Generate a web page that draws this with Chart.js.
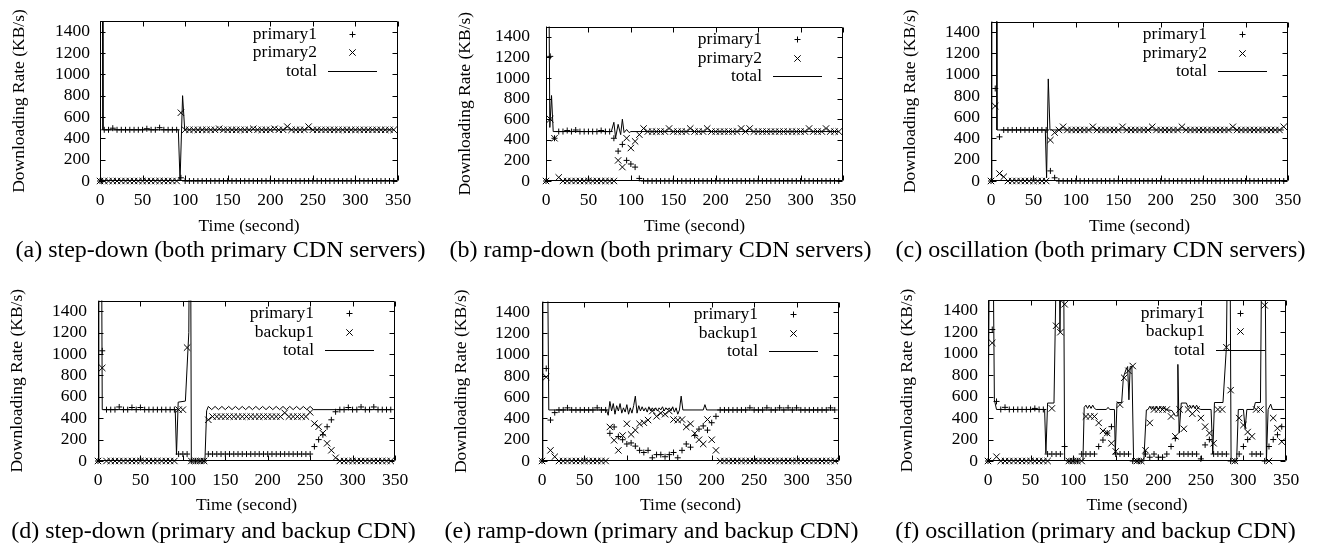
<!DOCTYPE html>
<html>
<head>
<meta charset="utf-8">
<script src="https://cdn.jsdelivr.net/npm/chart.js@4.4.1/dist/chart.umd.min.js"></script>
<style>
	body { margin: 0; width: 1323px; height: 545px; position: relative; overflow: hidden; background: #fff; font-family: 'Liberation Serif', serif; }
	canvas { position: absolute; }
	.caption { position: absolute; width: 441px; text-align: center; font-size: 24px; line-height: 28px; color: #000; white-space: nowrap; }
</style>
</head>
<body>
<canvas id="chart-a" width="418" height="240" style="left:5px;top:0px"></canvas>
<canvas id="chart-b" width="417" height="240" style="left:451px;top:0px"></canvas>
<canvas id="chart-c" width="417" height="240" style="left:896px;top:0px"></canvas>
<canvas id="chart-d" width="417" height="240" style="left:3px;top:279px"></canvas>
<canvas id="chart-e" width="417" height="240" style="left:447px;top:279px"></canvas>
<canvas id="chart-f" width="418" height="240" style="left:893px;top:279px"></canvas>

<div class="caption" style="left:0px;top:235px">(a) step-down (both primary CDN servers)</div>
<div class="caption" style="left:440px;top:235px">(b) ramp-down (both primary CDN servers)</div>
<div class="caption" style="left:880px;top:235px">(c) oscillation (both primary CDN servers)</div>
<div class="caption" style="left:-7px;top:516px">(d) step-down (primary and backup CDN)</div>
<div class="caption" style="left:431px;top:516px">(e) ramp-down (primary and backup CDN)</div>
<div class="caption" style="left:875px;top:516px">(f) oscillation (primary and backup CDN)</div>

<script>
// sample times (seconds) shared by the marker series
const time = [0,5,10,15,20,25,30,35,40,45,50,55,60,65,70,75,80,85,90,95,100,105,110,115,120,125,130,135,140,145,150,155,160,165,170,175,180,185,190,195,200,205,210,215,220,225,230,235,240,245,250,255,260,265,270,275,280,285,290,295,300,305,310,315,320,325,330,335,340,345]

// (a) step-down, both primary
const stepBothPrimary1 = [
	0,480,480,495,480,480,480,480,480,480,
	480,490,480,480,500,480,480,480,480,30,
	0,0,0,0,0,0,0,0,0,0,
	0,0,0,0,0,0,0,0,0,0,
	0,0,0,0,0,0,0,0,0,0,
	0,0,0,0,0,0,0,0,0,0,
	0,0,0,0,0,0,0,0,0,0]
const stepBothPrimary2 = [
	0,0,0,0,0,0,0,0,0,0,
	0,0,0,0,0,0,0,0,0,640,
	480,480,480,480,480,480,480,480,490,480,
	480,480,480,480,480,480,490,480,480,480,
	480,490,480,480,510,480,480,480,480,510,
	480,480,480,480,480,480,480,480,480,480,
	480,480,480,480,480,480,480,480,480,480]
const stepBothTotalTime = [0,0.5,2.5,3.5,92,94,97,99.5,345]
const stepBothTotal = [0,2500,2500,480,480,0,800,480,480]

// (b) ramp-down, both primary
const rampBothPrimary1 = [
	0,1210,415,480,480,490,480,495,480,480,
	480,480,480,490,480,480,415,290,355,200,
	165,135,25,0,0,0,0,0,0,0,
	0,0,0,0,0,0,0,0,0,0,
	0,0,0,0,0,0,0,0,0,0,
	0,0,0,0,0,0,0,0,0,0,
	0,0,0,0,0,0,0,0,0,0]
const rampBothPrimary2 = [
	0,600,415,35,0,0,0,0,0,0,
	0,0,0,0,0,0,0,200,135,415,
	320,385,450,510,480,480,480,480,480,510,
	480,480,480,480,510,480,480,480,510,480,
	480,480,480,480,480,480,510,480,510,480,
	480,480,480,480,480,480,480,480,480,480,
	480,480,510,480,480,480,510,480,480,480]
const rampBothTotalTime = [0,0.5,3,4.5,6.5,8.5,77,80,82,85,88,90,92,95,98,100,345]
const rampBothTotal = [0,2500,2500,520,830,480,480,570,420,550,450,600,470,500,470,480,480]

// (c) oscillation, both primary
const oscBothPrimary1 = [
	0,870,415,480,480,480,480,480,480,480,
	480,480,480,480,95,30,0,0,0,0,
	0,0,0,0,0,0,0,0,0,0,
	0,0,0,0,0,0,0,0,0,0,
	0,0,0,0,0,0,0,0,0,0,
	0,0,0,0,0,0,0,0,0,0,
	0,0,0,0,0,0,0,0,0,0]
const oscBothPrimary2 = [
	0,705,70,40,0,0,0,0,0,0,
	0,0,0,0,385,455,480,510,480,480,
	480,480,480,480,510,480,480,480,480,480,
	480,510,480,480,480,480,480,480,510,480,
	480,480,480,480,480,510,480,480,480,480,
	480,480,480,480,480,480,480,510,480,480,
	480,480,480,480,480,480,480,480,480,510]
const oscBothTotalTime = [0,1,6,7,64,65.5,67.5,69.5,345]
const oscBothTotal = [0,2500,2500,480,480,30,960,480,480]

// (d) step-down, primary and backup
const stepBackupPrimary1 = [
	0,1030,480,480,480,505,480,480,500,480,
	500,480,480,480,480,480,480,480,480,65,
	65,65,0,0,0,0,65,65,65,65,
	65,65,65,65,65,65,65,65,65,65,
	65,65,65,65,65,65,65,65,65,65,
	65,135,200,245,320,385,460,480,480,500,
	480,480,505,480,480,505,480,480,480,480]
const stepBackupBackup1 = [
	0,870,0,0,0,0,0,0,0,0,
	0,0,0,0,0,0,0,0,0,480,
	480,1060,0,0,0,0,385,415,415,415,
	415,415,415,415,415,415,415,415,415,415,
	415,415,415,415,450,415,415,415,415,415,
	455,350,320,260,165,100,30,0,0,0,
	0,0,0,0,0,0,0,0,0,0]
const stepBackupTotalTime = [0,1,4,5,91,92.5,94.5,103,107,108,109,110,126,128,
	130,134,138,142,146,150,154,158,162,166,170,174,178,182,186,190,194,198,202,206,210,214,218,222,226,230,234,238,242,246,250,
	254,345]
const stepBackupTotal = [0,2500,2500,480,480,60,550,560,1200,2500,2500,0,0,470,
	510,480,510,480,510,480,510,480,510,480,510,480,510,480,510,480,510,480,510,480,510,480,510,480,510,480,510,480,510,480,510,
	480,480]

// (e) ramp-down, primary and backup
const rampBackupPrimary1 = [
	0,870,385,455,480,480,500,480,480,480,
	480,480,480,500,480,480,260,320,230,200,
	160,170,140,100,80,100,30,60,60,40,
	60,80,30,100,160,130,240,300,330,290,
	360,420,480,480,480,480,480,480,480,500,
	480,480,480,500,480,480,500,480,500,480,
	500,480,480,480,480,480,480,480,500,480]
const rampBackupBackup1 = [
	0,790,100,40,0,0,0,0,0,0,
	0,0,0,0,0,0,320,195,100,240,
	350,250,290,350,360,385,470,420,450,440,
	470,390,385,390,320,350,260,200,160,390,
	200,100,0,0,0,0,0,0,0,0,
	0,0,0,0,0,0,0,0,0,0,
	0,0,0,0,0,0,0,0,0,0]
const rampBackupTotalTime = [0,1,6,8,
	76,78,80,82,84,86,88,90,92,94,96,98,100,102,104,106,108,110,112,114,116,118,120,122,124,126,128,130,132,134,136,138,140,142,144,146,148,150,152,154,156,158,160,162,164,166,
	190,192,194,345]
const rampBackupTotal = [0,2500,2500,480,
	480,430,560,470,540,440,520,470,540,450,500,460,530,440,500,450,520,610,450,520,470,510,470,500,460,510,470,500,470,500,470,500,480,510,470,500,480,500,470,510,460,500,440,480,610,480,
	480,530,480,480]

// (f) oscillation, primary and backup
const oscBackupPrimary1 = [
	0,1225,555,480,500,480,480,480,480,480,
	480,490,480,480,65,65,65,65,135,0,
	0,0,65,65,65,65,135,195,260,320,
	65,65,65,65,0,0,0,65,35,65,
	35,35,65,135,210,65,65,65,65,65,
	20,150,200,65,65,65,65,0,0,65,
	135,200,65,65,65,0,135,200,245,320]
const oscBackupBackup1 = [
	0,1100,40,0,0,0,0,0,0,0,
	0,0,0,0,0,490,1260,1200,1460,0,
	0,0,0,415,415,415,355,280,260,165,
	90,525,775,840,885,0,0,100,355,480,
	480,480,480,415,230,480,300,480,440,480,
	400,320,260,165,480,480,1060,660,0,400,
	335,270,230,480,480,1450,0,400,305,180]
const oscBackupTotalTime = [0,2,5.5,7.5,10,66.5,68,70,77.5,79,81.5,83,84.5,87,88.5,90,111.5,113,115,117,
	119,121,123,125,127,139,141,143,148.5,149.5,151.5,157,159,162,164,165.5,167,169,171,183,
	186,188,190,192,194,196,198,200,202,204,206,208,212,216,220,222,223,224.5,227,233,
	235,237,239,241,243,245,247,250,262,264,266,276,280,282,284,285.5,292,294,300,302,
	304,312,314,320,322,325,327,329,332,334,348]
const oscBackupTotal = [0,2500,2500,570,480,480,70,540,540,1260,2500,2500,1200,2500,2500,0,0,500,520,490,
	520,490,520,490,480,480,500,480,480,65,545,545,780,850,880,570,880,880,0,0,
	475,480,510,480,510,480,510,480,510,480,510,480,475,470,420,420,900,260,540,540,
	500,520,490,520,490,520,490,480,480,65,545,545,1060,2500,2500,0,0,480,480,300,
	480,480,545,545,2500,2500,0,480,530,480,480]

const panels = [
	{ id: 'chart-a', names: ['primary1', 'primary2'], first: stepBothPrimary1, second: stepBothPrimary2, totalTime: stepBothTotalTime, total: stepBothTotal, tickPad: 10, xHeight: 59 },
	{ id: 'chart-b', names: ['primary1', 'primary2'], first: rampBothPrimary1, second: rampBothPrimary2, totalTime: rampBothTotalTime, total: rampBothTotal, tickPad: 16, xHeight: 59 },
	{ id: 'chart-c', names: ['primary1', 'primary2'], first: oscBothPrimary1, second: oscBothPrimary2, totalTime: oscBothTotalTime, total: oscBothTotal, tickPad: 11, xHeight: 59 },
	{ id: 'chart-d', names: ['primary1', 'backup1'], first: stepBackupPrimary1, second: stepBackupBackup1, totalTime: stepBackupTotalTime, total: stepBackupTotal, tickPad: 11, xHeight: 58 },
	{ id: 'chart-e', names: ['primary1', 'backup1'], first: rampBackupPrimary1, second: rampBackupBackup1, totalTime: rampBackupTotalTime, total: rampBackupTotal, tickPad: 12, xHeight: 58 },
	{ id: 'chart-f', names: ['primary1', 'backup1'], first: oscBackupPrimary1, second: oscBackupBackup1, totalTime: oscBackupTotalTime, total: oscBackupTotal, tickPad: 10, xHeight: 58 }
]

const ink = '#000'
const fontFamily = "'Liberation Serif', serif"
Chart.defaults.font.family = fontFamily
Chart.defaults.font.size = 17.5
Chart.defaults.color = ink

// gnuplot style box with inward ticks on all four sides
const framePlugin = {
	id: 'frame',
	afterDraw: chart => {
		const { ctx, chartArea: a, scales: { x, y } } = chart
		const L = Math.round(a.left) + 0.5, R = Math.round(a.right) - 0.5
		const T = Math.round(a.top) + 0.5, B = Math.round(a.bottom) - 0.5
		ctx.save()
		ctx.strokeStyle = ink
		ctx.lineWidth = 1
		ctx.beginPath()
		ctx.rect(L, T, R - L, B - T)
		x.ticks.forEach(t => {
			const px = Math.round(x.getPixelForValue(t.value)) + 0.5
			ctx.moveTo(px, B); ctx.lineTo(px, B - 5)
			ctx.moveTo(px, T); ctx.lineTo(px, T + 5)
		})
		y.ticks.forEach(t => {
			const py = Math.round(y.getPixelForValue(t.value)) + 0.5
			ctx.moveTo(L, py); ctx.lineTo(L + 5, py)
			ctx.moveTo(R, py); ctx.lineTo(R - 5, py)
		})
		ctx.stroke()
		ctx.restore()
	}
}

// key in the top right corner, text right aligned then the sample
const keyPlugin = {
	id: 'key',
	afterDraw: chart => {
		const { ctx, chartArea: a } = chart
		ctx.save()
		ctx.font = '17.5px ' + fontFamily
		ctx.fillStyle = ink
		ctx.strokeStyle = ink
		ctx.lineWidth = 1
		ctx.textAlign = 'right'
		ctx.textBaseline = 'middle'
		chart.data.datasets.forEach((ds, i) => {
			const ky = Math.round(a.top + 12.5 + i * 18.5) + 0.5
			const kx = Math.round(a.right - 46) + 0.5
			ctx.fillText(ds.label, a.right - 81, ky)
			ctx.beginPath()
			if (ds.showLine) {
				ctx.moveTo(a.right - 70, ky); ctx.lineTo(a.right - 21, ky)
			} else if (ds.pointStyle === 'cross') {
				ctx.moveTo(kx - 3, ky); ctx.lineTo(kx + 3, ky)
				ctx.moveTo(kx, ky - 3); ctx.lineTo(kx, ky + 3)
			} else {
				ctx.moveTo(kx - 3.2, ky - 3.2); ctx.lineTo(kx + 3.2, ky + 3.2)
				ctx.moveTo(kx - 3.2, ky + 3.2); ctx.lineTo(kx + 3.2, ky - 3.2)
			}
			ctx.stroke()
		})
		ctx.restore()
	}
}

const markers = (values, style, radius, label) => {
	return {
		label: label,
		data: time.map((t, i) => { return { x: t, y: values[i] } }),
		showLine: false,
		pointStyle: style,
		pointRadius: radius,
		pointBorderWidth: 1,
		pointBorderColor: ink,
		pointBackgroundColor: ink,
		clip: false
	}
}

panels.forEach(p => {
	new Chart(document.getElementById(p.id), {
		type: 'scatter',
		data: {
			datasets: [
				markers(p.first, 'cross', 3, p.names[0]),
				markers(p.second, 'crossRot', 4.5, p.names[1]),
				{
					label: 'total',
					data: p.totalTime.map((t, i) => { return { x: t, y: p.total[i] } }),
					showLine: true,
					pointRadius: 0,
					borderColor: ink,
					borderWidth: 1,
					tension: 0
				}
			]
		},
		options: {
			responsive: false,
			animation: false,
			events: [],
			layout: { padding: { left: 0, right: 25, top: 21, bottom: 0 } },
			scales: {
				x: {
					type: 'linear',
					min: 0,
					max: 350,
					grid: { display: false, drawTicks: false },
					border: { display: false },
					ticks: { stepSize: 50, padding: 9, maxRotation: 0, autoSkip: false, color: ink, callback: v => String(v) },
					title: { display: true, text: 'Time (second)', color: ink, padding: { top: 0, bottom: 3 } },
					afterFit: scale => { scale.height = p.xHeight }
				},
				y: {
					type: 'linear',
					min: 0,
					max: 1500,
					grid: { display: false, drawTicks: false },
					border: { display: false },
					ticks: { stepSize: 200, includeBounds: false, autoSkip: false, padding: p.tickPad, color: ink, callback: v => String(v) },
					title: { display: true, text: 'Downloading Rate (KB/s)', color: ink, padding: { top: 3.5, bottom: 0 } },
					afterFit: scale => { scale.width = 95 }
				}
			},
			plugins: {
				legend: { display: false },
				tooltip: { enabled: false }
			}
		},
		plugins: [framePlugin, keyPlugin]
	})
})
</script>
</body>
</html>
